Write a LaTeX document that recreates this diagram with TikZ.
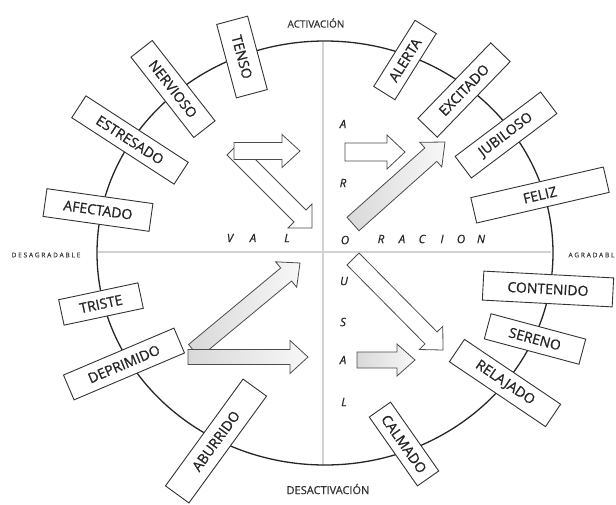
\documentclass[tikz,border=0pt]{standalone}
\usepackage{fontspec}
\setmainfont{Open Sans}
\usetikzlibrary{calc}
\tikzset{
  emo/.style={draw=black!80, line width=0.9pt, fill=white, inner sep=0pt,
    font=\fontsize{14}{16}\selectfont\addfontfeature{FakeBold=0.8}, text=black!85},
  axlbl/.style={font=\fontsize{10}{12}\selectfont\addfontfeature{FakeBold=0.6}, text=black!80},
  sidelbl/.style={font=\fontsize{6.5}{8}\selectfont\addfontfeature{LetterSpace=28,FakeBold=1}, text=black!75},
  axletter/.style={font=\itshape\fontsize{11.5}{13}\selectfont\addfontfeature{FakeBold=0.6}, text=black!85},
  axisline/.style={gray!35, line width=2.2pt},
  ring/.style={black!85, line width=1.3pt},
  warrow/.style={draw=black!70, line width=0.8pt, fill=white},
  garrow/.style={draw=black!70, line width=0.8pt, left color=gray!30, right color=gray!6},
}
\newcommand\blockarrow[6]{%
  \coordinate (bt) at (#2);
  \coordinate (bh) at (#3);
  \coordinate (bb) at ($(bh)!#6!(bt)$);
  \draw[#1] ($(bt)!#4!90:(bh)$) -- ($(bb)!#4!-90:(bt)$) -- ($(bb)!#5!-90:(bt)$) -- (bh)
    -- ($(bb)!#5!90:(bt)$) -- ($(bb)!#4!90:(bt)$) -- ($(bt)!#4!-90:(bh)$) -- cycle;}
\begin{document}
\begin{tikzpicture}[x=1pt,y=-1pt]
\useasboundingbox[fill=white] (0,0) rectangle (616,504);
% axes
\coordinate (axL) at (98,252);
\coordinate (axR) at (551,252);
\coordinate (axT) at (323,42);
\coordinate (axB) at (323,465);
\draw[axisline] (axL) -- (axR);
\draw[axisline] (axT) -- (axB);
% circle
\draw[ring] (325,253) ellipse [x radius=228, y radius=212];
% axis titles
\node[axlbl] (act) at (316,23) {ACTIVACIÓN};
\node[axlbl, font=\fontsize{11}{13}\selectfont\addfontfeature{FakeBold=0.6}] (desact) at (328,489) {DESACTIVACIÓN};
\node[sidelbl] (desag) at (46,255) {DESAGRADABLE};
\node[sidelbl, anchor=west] (agr) at (565,255) {AGRADABLE};
% emotion boxes
\node[emo, rotate=-75, minimum width=76pt, minimum height=32pt] (tenso) at (242,57) {TENSO};
\node[emo, rotate=-52, minimum width=102pt, minimum height=27pt] (nervioso) at (173,89) {NERVIOSO};
\node[emo, rotate=-33, minimum width=122pt, minimum height=26pt] (estresado) at (130,140) {ESTRESADO};
\node[emo, rotate=-8, minimum width=107pt, minimum height=28pt] (afectado) at (98,210) {AFECTADO};
\node[emo, rotate=12, minimum width=81pt, minimum height=26pt] (triste) at (101,304) {TRISTE};
\node[emo, rotate=23, minimum width=120pt, minimum height=27pt] (deprimido) at (124,364) {DEPRIMIDO};
\node[emo, rotate=54, minimum width=132pt, minimum height=29pt] (aburrido) at (216,441) {ABURRIDO};
\node[emo, rotate=-55, minimum width=84pt, minimum height=26pt] (calmado) at (404,444) {CALMADO};
\node[emo, rotate=-34, minimum width=116pt, minimum height=27pt] (relajado) at (505,383) {RELAJADO};
\node[emo, rotate=-15, minimum width=98pt, minimum height=26pt] (sereno) at (535,339) {SERENO};
\node[emo, rotate=-3, minimum width=130pt, minimum height=29pt] (contenido) at (548,289) {CONTENIDO};
\node[emo, rotate=13, minimum width=136pt, minimum height=26pt] (feliz) at (540,195) {FELIZ};
\node[emo, rotate=37, minimum width=107pt, minimum height=27pt] (jubiloso) at (506,135) {JUBILOSO};
\node[emo, rotate=46, minimum width=105pt, minimum height=27pt] (excitado) at (464,90) {EXCITADO};
\node[emo, rotate=58, minimum width=78pt, minimum height=25pt] (alerta) at (405,60) {ALERTA};
% arrows
\blockarrow{warrow}{233,149}{312,228}{8.5pt}{17pt}{17pt}
\blockarrow{warrow}{234,151}{300,151}{8.5pt}{16.5pt}{18pt}
\blockarrow{warrow}{345,152}{405,152}{9pt}{17pt}{18pt}
\blockarrow{garrow}{353,224}{445,142}{9pt}{16.5pt}{19pt}
\blockarrow{garrow}{194,351}{300,263}{8.5pt}{16.5pt}{18pt}
\blockarrow{garrow}{188,357}{308,357}{7.5pt}{16.5pt}{18pt}
\blockarrow{warrow}{353,259}{443,350}{8.5pt}{16.5pt}{17pt}
\blockarrow{garrow}{357,360}{415,360}{8pt}{16pt}{18pt}
% axis letters
\node[axletter] (vV) at (230,238) {V};
\node[axletter] (vA) at (253,238) {A};
\node[axletter] (vL) at (287,238) {L};
\node[axletter] (vO) at (345,240) {O};
\node[axletter] (vR2) at (381,239) {R};
\node[axletter] (vA2) at (402,239) {A};
\node[axletter] (vC) at (422,239) {C};
\node[axletter] (vI) at (442,239) {I};
\node[axletter] (vO2) at (461,239) {O};
\node[axletter] (vN) at (481,239) {N};
\node[axletter] (aA) at (343,124) {A};
\node[axletter] (aR) at (343,183) {R};
\node[axletter] (aU) at (344,281) {U};
\node[axletter] (aS) at (343,322) {S};
\node[axletter] (aA2) at (343,360) {A};
\node[axletter] (aL) at (344,402) {L};
\end{tikzpicture}
\end{document}
